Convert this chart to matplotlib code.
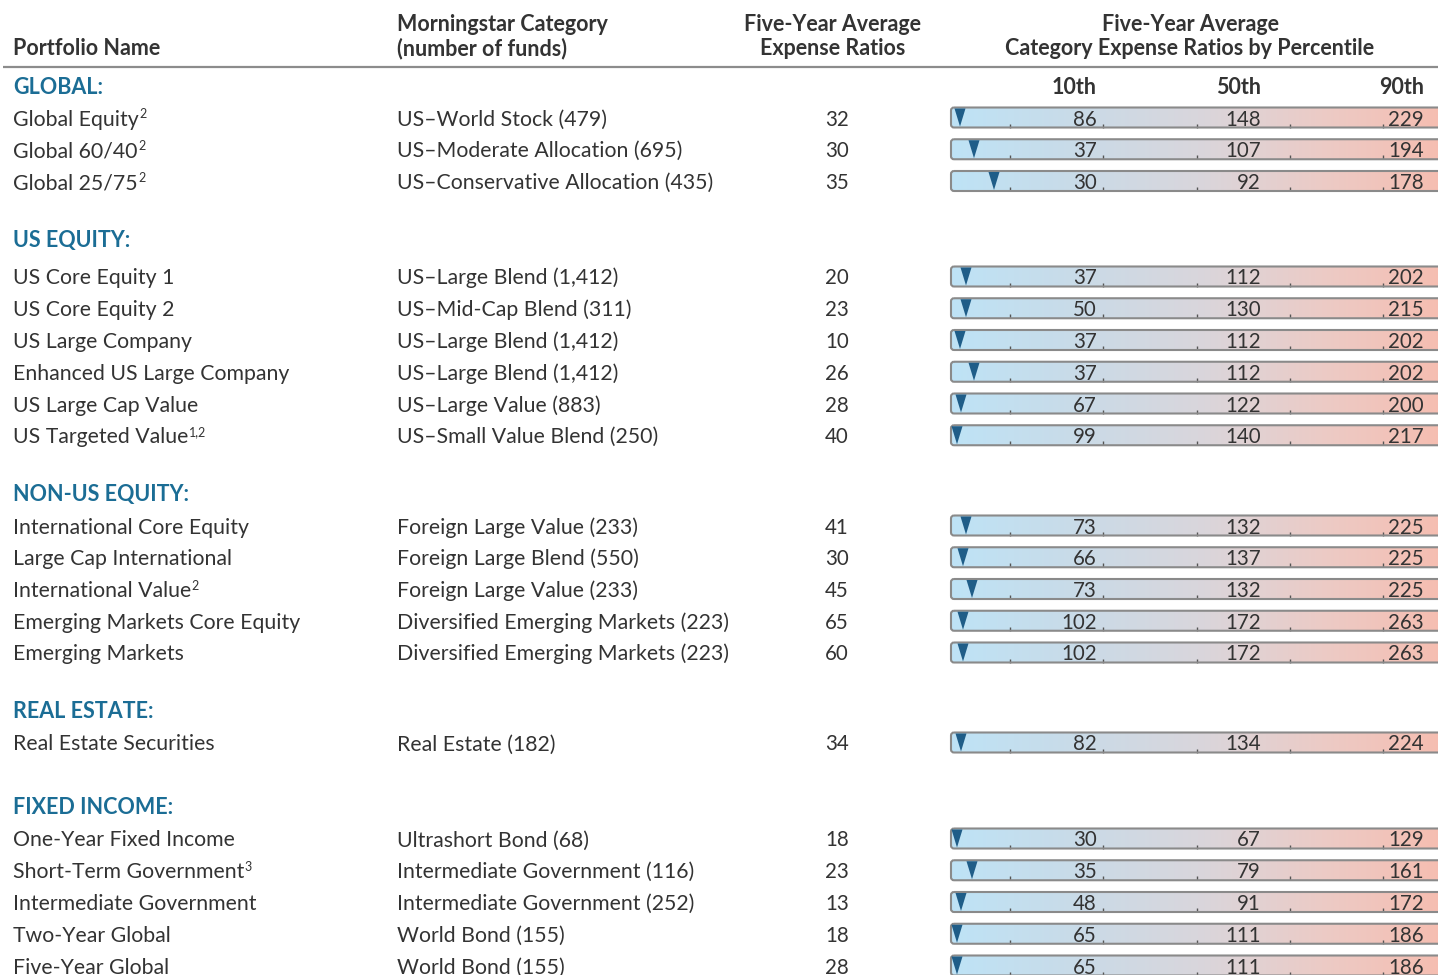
import numpy as np
import matplotlib
matplotlib.use('Agg')
import matplotlib.pyplot as plt
from matplotlib.patches import FancyBboxPatch, Polygon
from matplotlib.colors import LinearSegmentedColormap

plt.rcParams['font.family'] = ['Lato', 'DejaVu Sans']

# data
sections = ['GLOBAL:', 'US EQUITY:', 'NON-US EQUITY:', 'REAL ESTATE:', 'FIXED INCOME:']

names = [
    ['Global Equity', 'Global 60/40', 'Global 25/75'],
    ['US Core Equity 1', 'US Core Equity 2', 'US Large Company',
     'Enhanced US Large Company', 'US Large Cap Value', 'US Targeted Value'],
    ['International Core Equity', 'Large Cap International', 'International Value',
     'Emerging Markets Core Equity', 'Emerging Markets'],
    ['Real Estate Securities'],
    ['One-Year Fixed Income', 'Short-Term Government', 'Intermediate Government',
     'Two-Year Global', 'Five-Year Global'],
]
footnotes = [
    ['2', '2', '2'],
    ['', '', '', '', '', '1,2'],
    ['', '', '2', '', ''],
    [''],
    ['', '3', '', '', ''],
]
categories = [
    ['US–World Stock (479)', 'US–Moderate Allocation (695)', 'US–Conservative Allocation (435)'],
    ['US–Large Blend (1,412)', 'US–Mid-Cap Blend (311)', 'US–Large Blend (1,412)',
     'US–Large Blend (1,412)', 'US–Large Value (883)', 'US–Small Value Blend (250)'],
    ['Foreign Large Value (233)', 'Foreign Large Blend (550)', 'Foreign Large Value (233)',
     'Diversified Emerging Markets (223)', 'Diversified Emerging Markets (223)'],
    ['Real Estate (182)'],
    ['Ultrashort Bond (68)', 'Intermediate Government (116)', 'Intermediate Government (252)',
     'World Bond (155)', 'World Bond (155)'],
]
expense = [[32, 30, 35], [20, 23, 10, 26, 28, 40], [41, 30, 45, 65, 60], [34], [18, 23, 13, 18, 28]]
p10 = [[86, 37, 30], [37, 50, 37, 37, 67, 99], [73, 66, 73, 102, 102], [82], [30, 35, 48, 65, 65]]
p50 = [[148, 107, 92], [112, 130, 112, 112, 122, 140], [132, 137, 132, 172, 172], [134], [67, 79, 91, 111, 111]]
p90 = [[229, 194, 178], [202, 215, 202, 202, 200, 217], [225, 225, 225, 263, 263], [224], [129, 161, 172, 186, 186]]
# estimated percentile rank of each portfolio inside its category
rank = [[1.8, 4.6, 8.6], [3.0, 3.0, 1.8, 4.6, 2.0, 1.2], [3.0, 2.4, 4.2, 2.4, 2.4], [2.0],
        [1.2, 4.2, 2.0, 1.2, 1.2]]

# layout (pixels)
W, H = 1438, 975
header_y = [87, 240, 494, 711, 807]
first_row_y = [118, 277, 526, 743, 839]
row_step = 31.75
x_name, x_cat, x_exp = 13, 397, 849
bar_x0, bar_x1 = 951, 1446
bar_h = 20
px_per_rank = 5.0
tick_x = [1010, 1103.3, 1196.6, 1290, 1383.3]
lab_x = [1097, 1261, 1424]
base = 7.5  # row centre -> text baseline

txt = '#333333'
blue = '#1b6d95'
mark = '#1f5d88'
fs_body = 15.3
fs_num = 14.8
fs_head = 15.5

cmap = LinearSegmentedColormap.from_list(
    'bar', ['#bee3f6', '#c9dbe8', '#d9d6dc', '#eccbc6', '#f6bdb0'])
grad = cmap(np.linspace(0, 1, 256))[None, :, :]

fig = plt.figure(figsize=(W / 100, H / 100), dpi=100)
ax = fig.add_axes([0, 0, 1, 1])
ax.set_xlim(0, W)
ax.set_ylim(H, 0)
ax.axis('off')

# column headers
hkw = dict(fontsize=fs_head, fontweight='bold', color=txt, va='baseline')
ax.text(x_name, 55, 'Portfolio Name', ha='left', **hkw)
ax.text(x_cat, 31, 'Morningstar Category', ha='left', **hkw)
ax.text(x_cat, 55, '(number of funds)', ha='left', **hkw)
ax.text(833, 31, 'Five-Year Average', ha='center', **hkw)
ax.text(833, 55, 'Expense Ratios', ha='center', **hkw)
ax.text(1190, 31, 'Five-Year Average', ha='center', **hkw)
ax.text(1190, 55, 'Category Expense Ratios by Percentile', ha='center', **hkw)
ax.plot([3, W], [67, 67], color='#8c8c8c', lw=1.6, solid_capstyle='butt')
for lx, lab in zip(lab_x, ['10th', '50th', '90th']):
    ax.text(lx, 87 + base, lab, ha='right', **hkw)

renderer = fig.canvas.get_renderer()
inv = ax.transData.inverted()

for s, sec in enumerate(sections):
    ax.text(x_name, header_y[s] + base, sec, ha='left', va='baseline', fontsize=fs_head,
            fontweight='bold', color=blue)
    for i in range(len(names[s])):
        y = first_row_y[s] + i * row_step
        yb = y + base
        t = ax.text(x_name, yb, names[s][i], ha='left', va='baseline', fontsize=fs_body, color=txt)
        if footnotes[s][i]:
            bb = t.get_window_extent(renderer=renderer)
            xe, _ = inv.transform((bb.x1, bb.y1))
            ax.text(xe + 0.5, yb - 7, footnotes[s][i], ha='left', va='baseline',
                    fontsize=9, color=txt)
        ax.text(x_cat, yb, categories[s][i], ha='left', va='baseline', fontsize=fs_body, color=txt)
        ax.text(x_exp, yb, str(expense[s][i]), ha='right', va='baseline', fontsize=fs_num, color=txt)

        # percentile bar
        yc = y - 0.5
        top, bot = yc - bar_h / 2, yc + bar_h / 2
        box = FancyBboxPatch((bar_x0, top), bar_x1 - bar_x0, bar_h,
                             boxstyle='round,pad=0,rounding_size=3',
                             facecolor='none', edgecolor='#8a8a8a', lw=1.5, zorder=4)
        ax.add_patch(box)
        im = ax.imshow(grad, extent=(bar_x0, bar_x1, bot, top), aspect='auto',
                       interpolation='bilinear', zorder=2)
        im.set_clip_path(box)
        ax.vlines(tick_x, bot - 4, bot, color='#555555', lw=1, zorder=3)
        mx = bar_x0 + rank[s][i] * px_per_rank
        ax.add_patch(Polygon([[mx - 5.5, top + 1], [mx + 5.5, top + 1], [mx, bot - 1]],
                             closed=True, facecolor=mark, edgecolor='none', zorder=5))
        for lx, v in zip(lab_x, [p10[s][i], p50[s][i], p90[s][i]]):
            ax.text(lx, yb, str(v), ha='right', va='baseline', fontsize=fs_num, color=txt, zorder=6)

fig.savefig('out.png', dpi=100)
